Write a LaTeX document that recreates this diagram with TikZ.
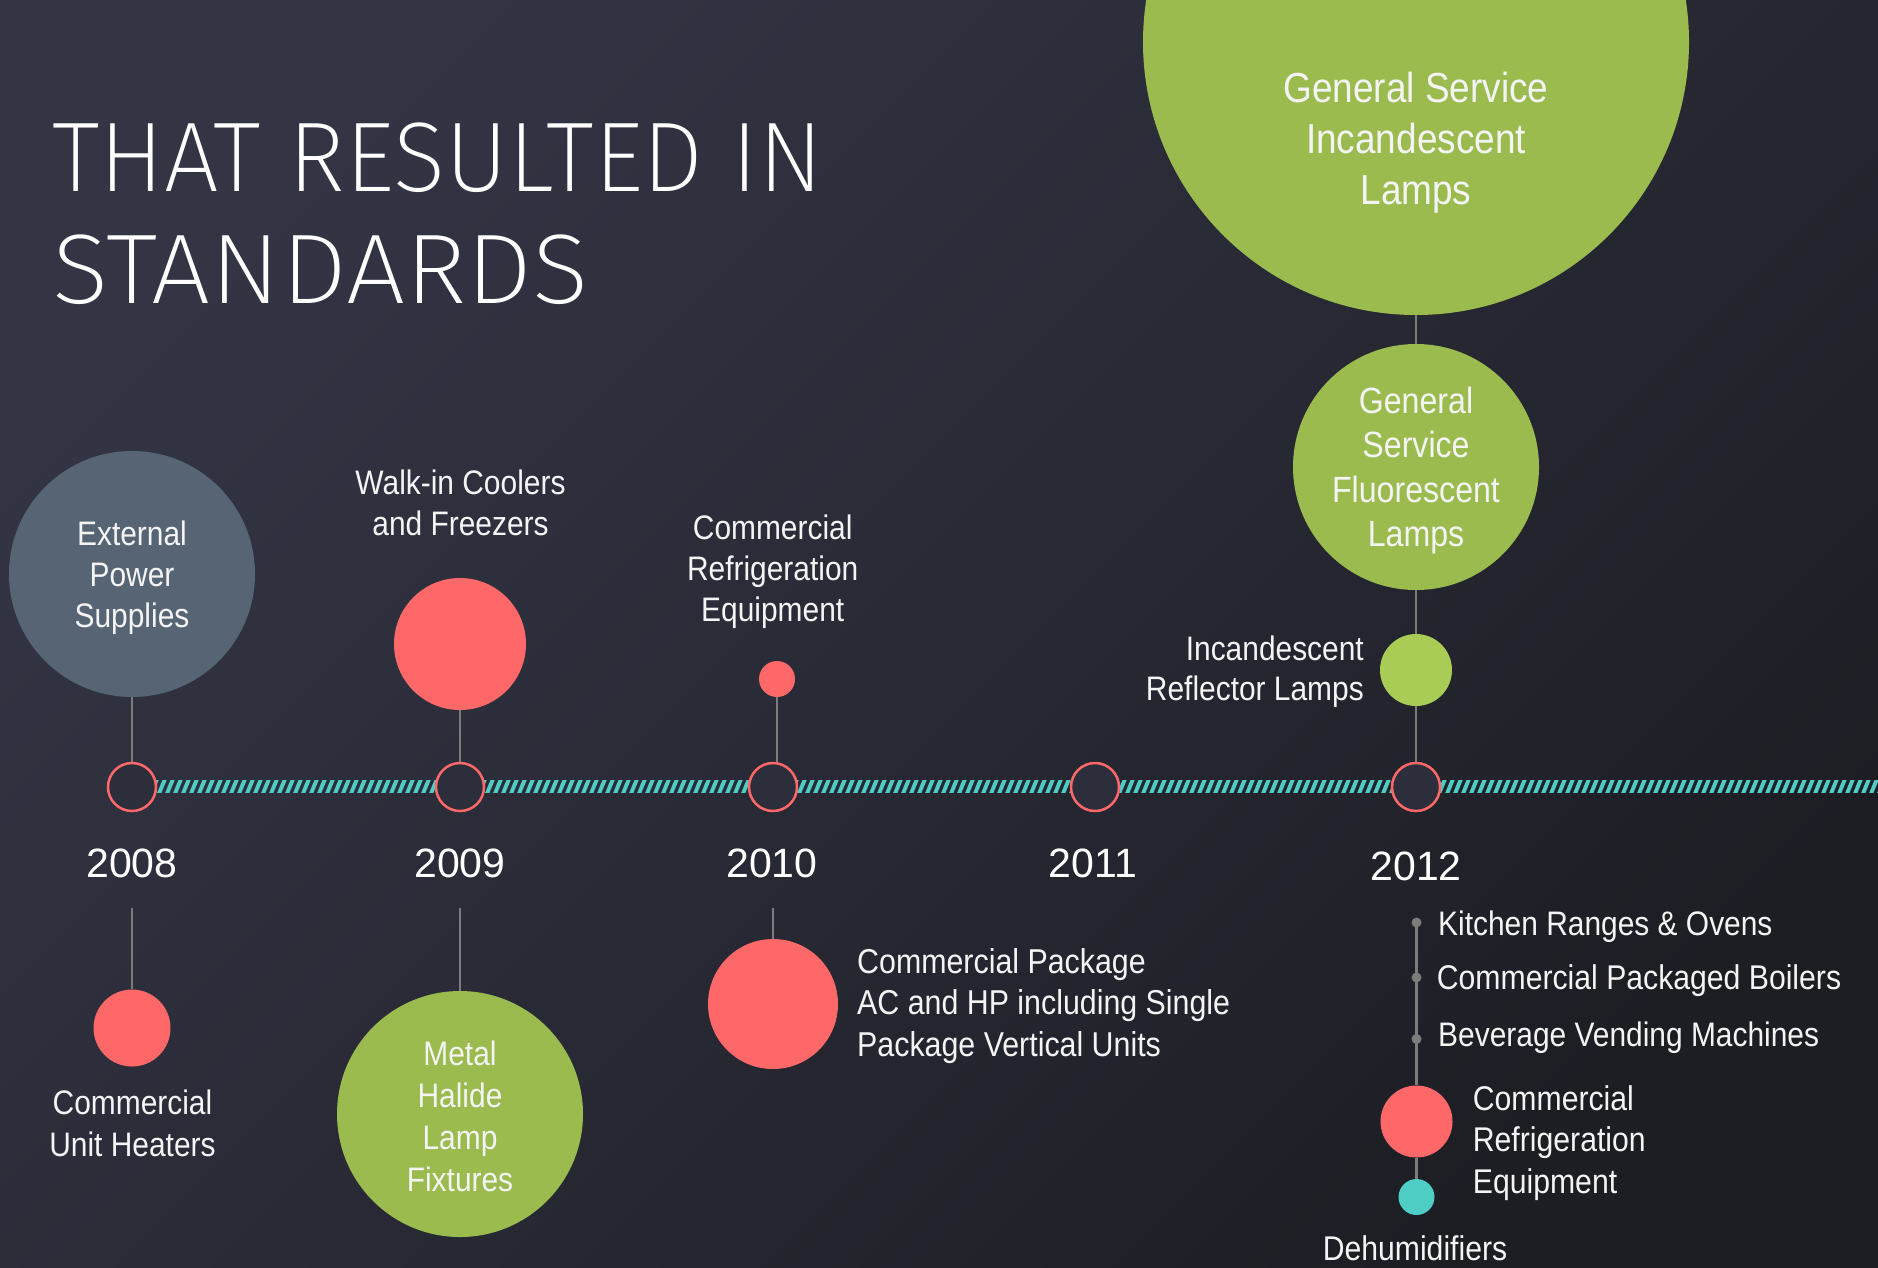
\documentclass[tikz,border=0pt]{standalone}
\usepackage{fontspec}
\setmainfont{Liberation Sans}
\newfontfamily\labfam[FakeStretch=0.88]{Liberation Sans}
\newfontfamily\ttlfam[FakeStretch=0.98]{Fira Sans ExtraLight}
\newfontfamily\ttlwide[FakeStretch=1.06]{Fira Sans ExtraLight}

\definecolor{bgTop}{HTML}{333545}
\definecolor{bgBot}{HTML}{1D1E24}
\definecolor{coral}{HTML}{FF6868}
\definecolor{leaf}{HTML}{9BBB4F}
\definecolor{lime}{HTML}{A9CC56}
\definecolor{slate}{HTML}{566473}
\definecolor{aqua}{HTML}{4ECDC4}
\definecolor{ringfill}{HTML}{2C2E3B}
\definecolor{stemgrey}{HTML}{7C7C7C}
\definecolor{labwhite}{HTML}{F4F4F4}

% stacked lines whose first baseline is the node's base
\newcommand\txtlines[2]{\begin{tabular}[t]{@{}#1@{}}#2\end{tabular}}
\newcommand\labsize[2]{\labfam\fontsize{#1}{#2}\selectfont}

\tikzset{
  bubble/.style={circle, inner sep=0pt, draw=none},
  yearring/.style={circle, inner sep=0pt, minimum size=48pt, draw=coral,
                   line width=2.5pt, fill=ringfill},
  stem/.style={draw=stemgrey, line width=2.5pt},
  lab/.style={text=labwhite, inner sep=0pt, anchor=base},
  yearlab/.style={text=white, inner sep=0pt, anchor=base,
                  font=\fontsize{41}{48}\selectfont},
}

\begin{document}
\begin{tikzpicture}[x=1pt, y=-1pt]
\useasboundingbox (0,0) rectangle (1878,1267);
\clip (0,0) rectangle (1878,1267);

% background
\shade[top color=bgTop, bottom color=bgBot, shading angle=45]
  (0,0) rectangle (1878,1267);

% hatched time axis
\begin{scope}
  \clip (132,780.5) rectangle (1878,792.5);
  \foreach \k in {0,...,220}
    \draw[aqua, line width=3.9pt] ({126+8*\k},796) -- ++(7,-17);
\end{scope}

% year markers
\node[yearring] (y08) at (132,787) {};
\node[yearring] (y09) at (460,787) {};
\node[yearring] (y10) at (773,787) {};
\node[yearring] (y11) at (1095,787) {};
\node[yearring] (y12) at (1416,787) {};

\node[yearlab] (t08) at (132,877) {2008};
\node[yearlab] (t09) at (460,877) {2009};
\node[yearlab] (t10) at (772,877) {2010};
\node[yearlab] (t11) at (1093,877) {2011};
\node[yearlab] (t12) at (1416,880) {2012};

% title
\node[anchor=base west, inner sep=0pt, text=white,
      font=\ttlfam\fontsize{99}{112.5}\selectfont] (title) at (52,191)
  {\txtlines{l}{THAT RESULTED IN\\{\ttlwide STANDARDS}}};

% bubbles above the axis
\node[bubble, fill=slate, minimum size=246pt] (cEPS) at (132,574) {};
\node[bubble, fill=coral, minimum size=132pt] (cWalk) at (460,644) {};
\node[bubble, fill=coral, minimum size=36pt] (cCRE) at (777,679) {};
\node[bubble, fill=leaf, minimum size=546pt] (cBig) at (1416,42) {};
\node[bubble, fill=leaf, minimum size=246pt] (cFluor) at (1416,467) {};
\node[bubble, fill=lime, minimum size=72pt] (cRefl) at (1416,670) {};

% bubbles below the axis
\coordinate (l08) at (132,908);
\coordinate (l09) at (460,908);
\coordinate (l10) at (773,908);
\node[bubble, fill=coral, minimum size=77pt] (cCUH) at (132,1028) {};
\node[bubble, fill=leaf, minimum size=246pt] (cMH) at (460,1114) {};
\node[bubble, fill=coral, minimum size=130pt] (cCPAC) at (773,1004) {};
\node[bubble, fill=coral, minimum size=72pt] (cCRE2) at (1416.5,1121.5) {};
\node[bubble, fill=aqua, minimum size=36pt] (cDeh) at (1416.5,1197) {};

% stems
\draw[stem] (cEPS) -- (y08);
\draw[stem] (cWalk) -- (y09);
\draw[stem] (cCRE.south) -- (cCRE.south |- y10.north);
\draw[stem] (cBig) -- (cFluor);
\draw[stem] (cFluor) -- (cRefl);
\draw[stem] (cRefl) -- (y12);
\draw[stem] (l08) -- (cCUH);
\draw[stem] (l09) -- (cMH);
\draw[stem] (l10) -- (cCPAC);

\node[bubble, fill=stemgrey, minimum size=10pt] (kd1) at (1416.5,922.5) {};
\node[bubble, fill=stemgrey, minimum size=10pt] (kd2) at (1416.5,977.5) {};
\node[bubble, fill=stemgrey, minimum size=10pt] (kd3) at (1416.5,1039) {};
\draw[stem] (kd1.center) -- (cCRE2);
\draw[stem] (cCRE2) -- (cDeh);

% labels
\node[lab, font=\labsize{34}{41}] (xEPS) at (132,545)
  {\txtlines{c}{External\\Power\\Supplies}};
\node[lab, font=\labsize{34}{40.7}] (xWalk) at (460.5,494.3)
  {\txtlines{c}{Walk-in Coolers\\and Freezers}};
\node[lab, font=\labsize{34}{41.2}] (xCRE) at (772.7,539.3)
  {\txtlines{c}{Commercial\\Refrigeration\\Equipment}};
\node[lab, font=\labsize{42}{51}] (xBig) at (1416,102.5)
  {\txtlines{c}{General Service\\Incandescent\\Lamps}};
\node[lab, font=\labsize{36.5}{44.5}] (xFluor) at (1416,413.3)
  {\txtlines{c}{General\\Service\\Fluorescent\\Lamps}};
\node[lab, anchor=base east, font=\labsize{34}{40}] (xRefl) at (1364,660)
  {\txtlines{r}{Incandescent\\Reflector Lamps}};
\node[lab, font=\labsize{34}{42}] (xCUH) at (132.5,1114)
  {\txtlines{c}{Commercial\\Unit Heaters}};
\node[lab, font=\labsize{34}{42}] (xMH) at (460,1065.5)
  {\txtlines{c}{Metal\\Halide\\Lamp\\Fixtures}};
\node[lab, anchor=base west, font=\labsize{34.5}{41.7}] (xCPAC) at (857,973)
  {\txtlines{l}{Commercial Package\\AC and HP including Single\\Package Vertical Units}};
\node[lab, anchor=base west, font=\labsize{34}{41}] (xK1) at (1438,935)
  {Kitchen Ranges \& Ovens};
\node[lab, anchor=base west, font=\labsize{34.3}{41}] (xK2) at (1436.7,989)
  {Commercial Packaged Boilers};
\node[lab, anchor=base west, font=\labsize{34}{41}] (xK3) at (1438,1046.7)
  {Beverage Vending Machines};
\node[lab, anchor=base west, font=\labsize{34.3}{41.7}] (xCRE2) at (1472.7,1110)
  {\txtlines{l}{Commercial\\Refrigeration\\Equipment}};
\node[lab, font=\labsize{34.3}{41}] (xDeh) at (1415,1260) {Dehumidifiers};
\end{tikzpicture}
\end{document}
